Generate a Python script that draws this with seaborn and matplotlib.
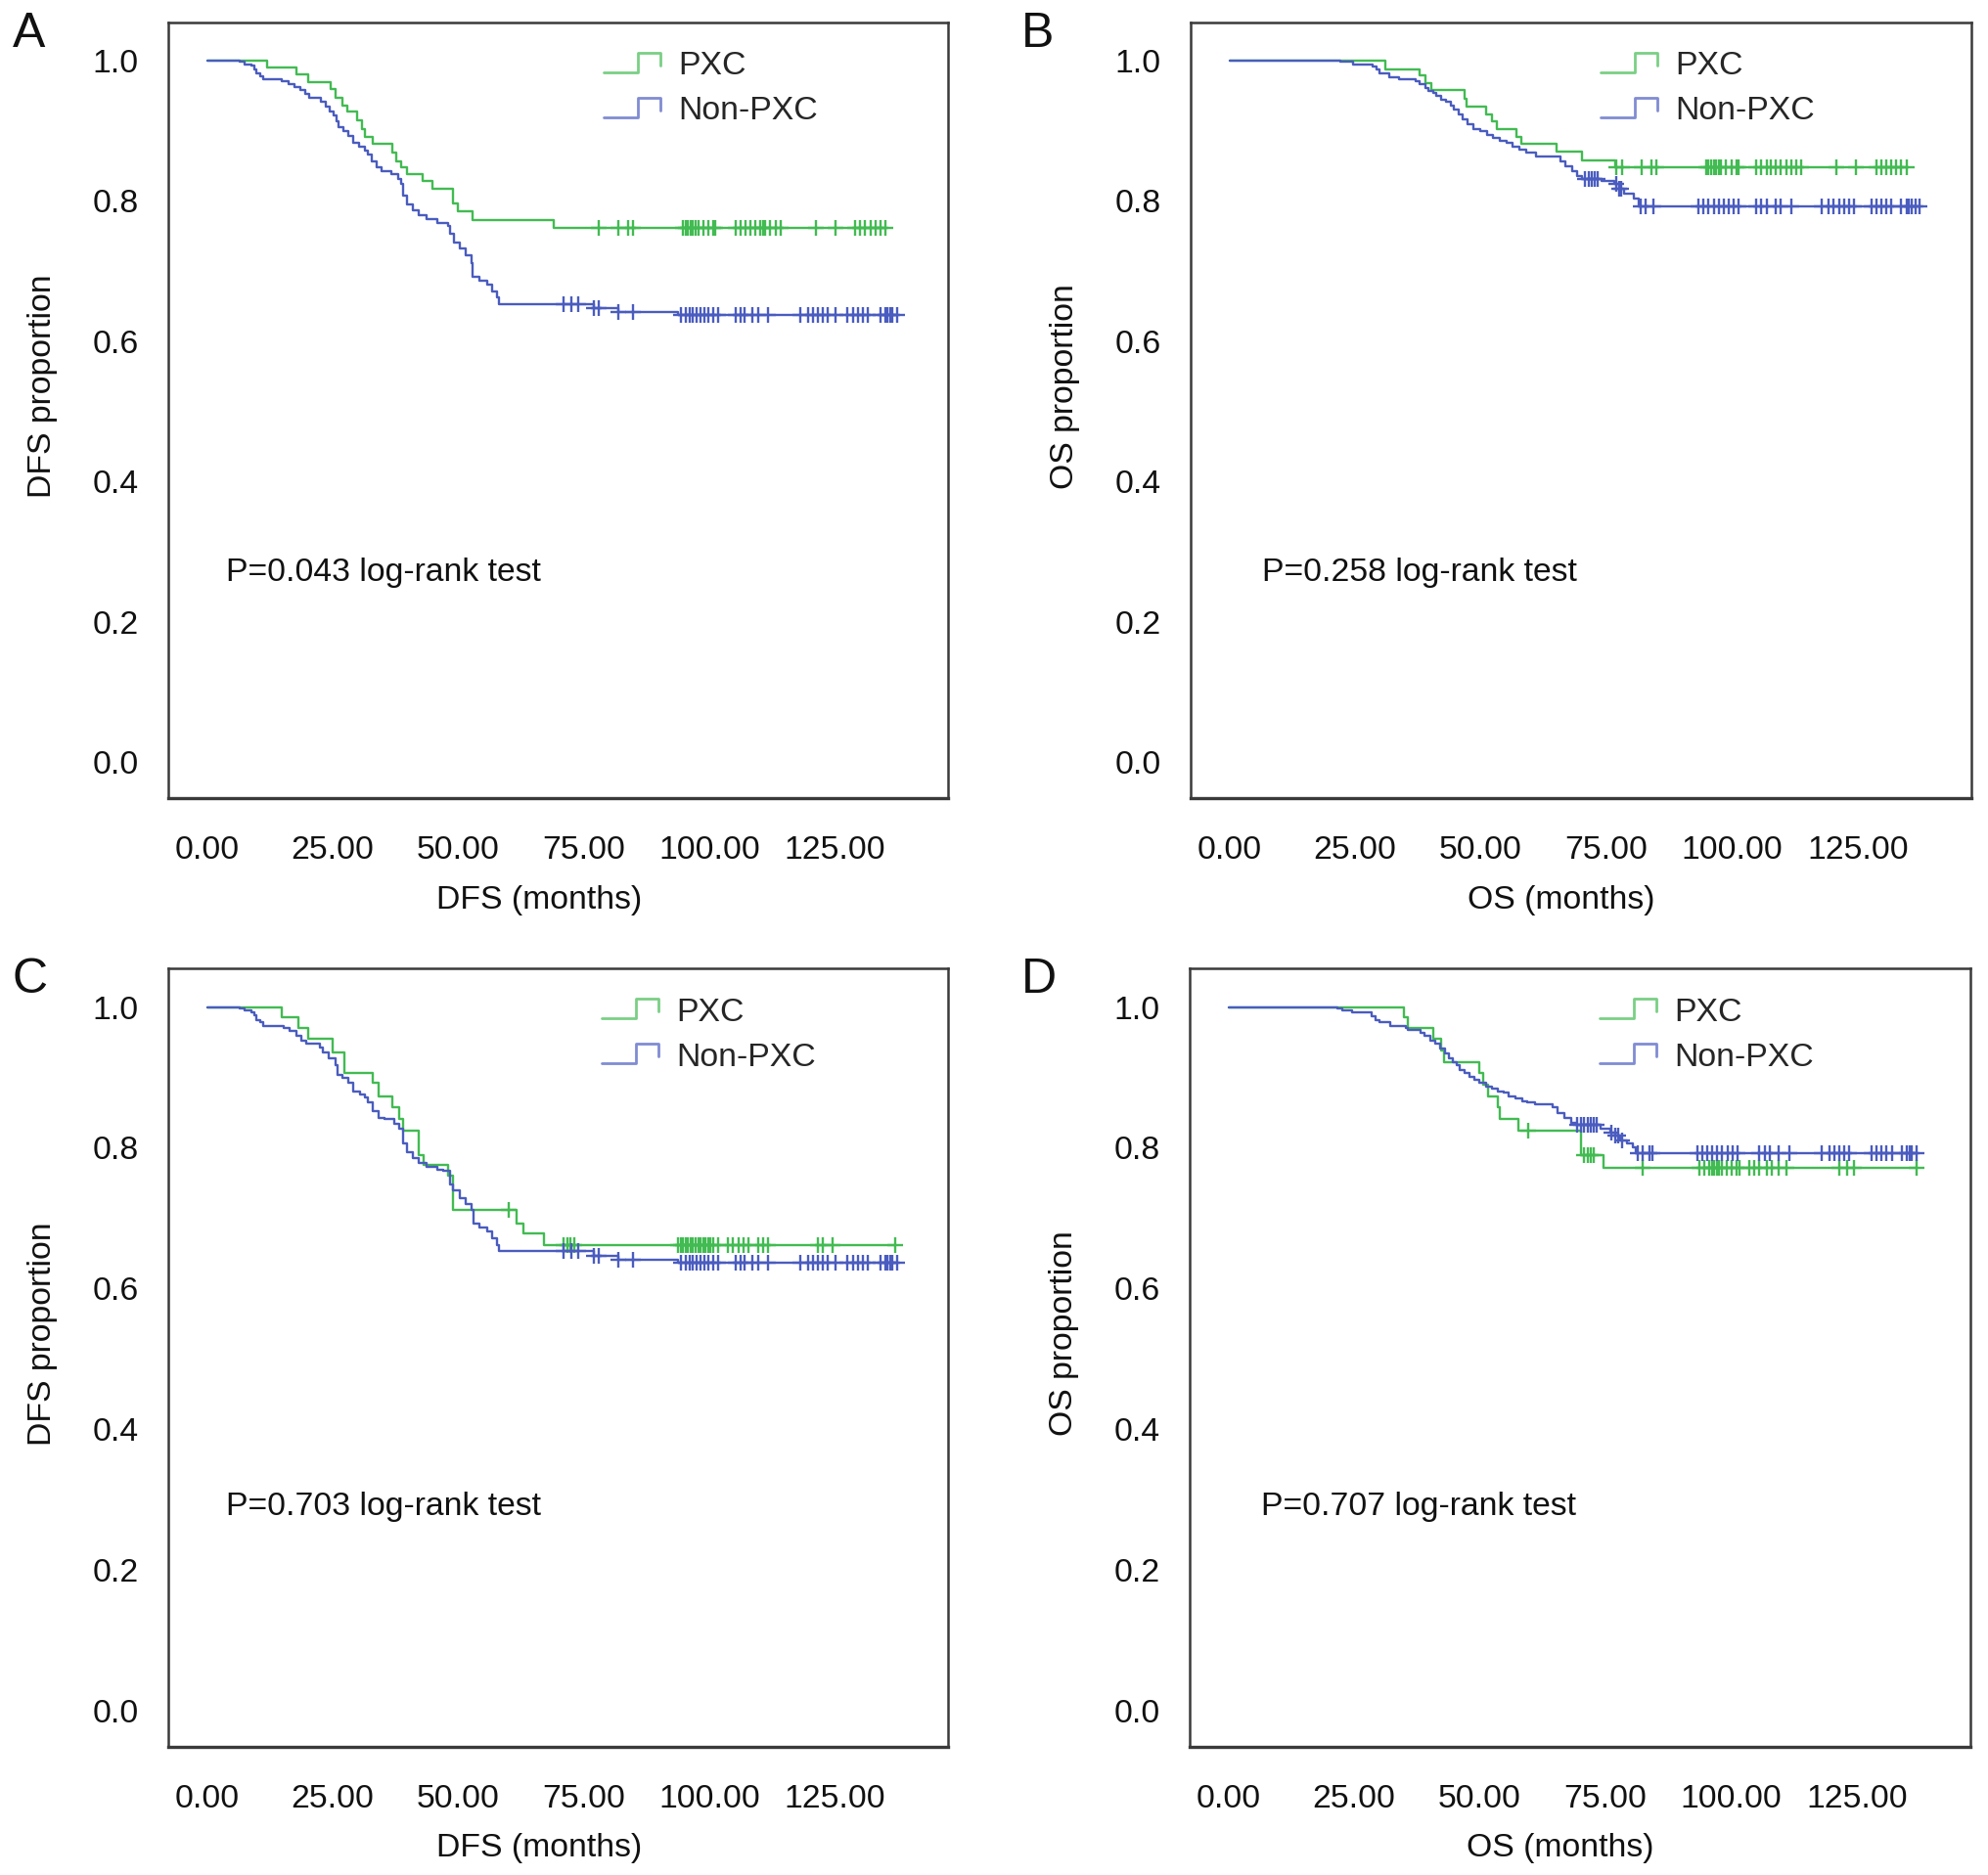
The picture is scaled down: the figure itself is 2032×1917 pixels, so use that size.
# Kaplan-Meier curves: PXC vs Non-PXC, DFS and OS, two cohorts (A-D)

import numpy as np
import pandas as pd
import matplotlib.pyplot as plt
import seaborn as sns
from matplotlib.lines import Line2D
from matplotlib.legend_handler import HandlerBase

sns.set_style('white')
plt.rcParams['font.family'] = ['Liberation Sans', 'DejaVu Sans']

# ---- data (months, survival proportion) ----
# Panel A - DFS
A_PXC_T = [11.9, 17.9, 20.1, 24.7, 25.6, 26.9, 27.9, 29.9, 30.9, 31.5, 33.1, 37.0, 37.7, 38.6, 39.9,
           42.9, 44.8, 49.0, 50.0, 52.9, 69.0]
A_PXC_S = [0.990, 0.980, 0.969, 0.959, 0.947, 0.936, 0.927, 0.915, 0.903, 0.892, 0.882, 0.869, 0.857,
           0.848, 0.838, 0.829, 0.817, 0.797, 0.785, 0.773, 0.762]
A_PXC_C = [78.0, 81.9, 83.9, 84.9, 94.8, 95.3, 95.8, 96.3, 96.8, 97.3, 97.8, 98.8, 99.8, 100.8, 101.3,
           105.3, 106.3, 107.3, 108.2, 109.2, 110.2, 110.7, 111.2, 112.2, 113.2, 114.2, 121.2, 125.1,
           129.1, 130.1, 131.1, 132.1, 133.1, 134.1, 135.1]
A_NON_T = [6.5, 7.5, 8.8, 9.4, 9.9, 10.6, 11.2, 14.9, 16.2, 17.5, 18.5, 19.5, 20.3, 22.7, 23.6, 24.5,
           25.3, 25.8, 26.2, 27.1, 28.2, 29.2, 30.2, 31.4, 32.0, 32.8, 33.8, 34.7, 36.7, 38.0, 38.6, 39.0,
           39.9, 40.9, 42.2, 43.8, 45.8, 48.1, 48.4, 49.2, 50.3, 51.6, 52.6, 52.9, 54.2, 55.8, 56.8, 57.8,
           58.2, 77.0, 81.9, 93.8]
A_NON_S = [0.998, 0.995, 0.993, 0.988, 0.982, 0.978, 0.973, 0.971, 0.967, 0.962, 0.958, 0.952, 0.947,
           0.941, 0.935, 0.928, 0.922, 0.913, 0.905, 0.899, 0.893, 0.883, 0.877, 0.872, 0.866, 0.857,
           0.848, 0.842, 0.838, 0.832, 0.825, 0.808, 0.795, 0.787, 0.780, 0.774, 0.769, 0.764, 0.753,
           0.741, 0.732, 0.723, 0.711, 0.692, 0.687, 0.681, 0.671, 0.662, 0.653, 0.647, 0.641, 0.637]
A_NON_C = [71.0, 72.5, 74.0, 77.0, 78.0, 81.9, 84.9, 94.3, 95.3, 96.1, 96.8, 97.5, 98.3, 99.1, 99.8,
           100.8, 101.8, 105.3, 106.3, 107.1, 108.7, 109.7, 111.7, 118.2, 119.7, 120.7, 121.6, 122.6,
           123.6, 125.1, 127.6, 128.6, 129.6, 130.6, 131.6, 134.1, 135.1, 135.6, 136.1, 136.5, 137.5]

# Panel B - OS
B_PXC_T = [31.0, 37.8, 39.0, 40.2, 46.7, 47.2, 51.1, 52.2, 53.1, 57.1, 58.1, 65.0, 70.1, 76.8]
B_PXC_S = [0.988, 0.979, 0.968, 0.958, 0.946, 0.935, 0.924, 0.914, 0.903, 0.892, 0.882, 0.870, 0.858,
           0.848]
B_PXC_C = [77.0, 78.0, 81.9, 83.9, 84.9, 94.8, 95.3, 95.8, 96.3, 96.8, 97.3, 97.8, 98.8, 99.8, 100.8,
           101.3, 104.8, 105.8, 106.8, 107.7, 108.7, 109.7, 110.7, 111.7, 112.7, 113.7, 120.7, 124.6,
           128.6, 129.6, 130.6, 131.6, 132.6, 133.6, 134.6]
B_NON_T = [22.0, 24.6, 28.5, 29.2, 29.8, 31.8, 33.7, 37.0, 37.9, 38.9, 39.6, 40.5, 41.2, 42.1, 43.1,
           44.1, 44.7, 45.7, 46.4, 47.3, 48.6, 49.9, 51.2, 52.5, 53.8, 55.1, 56.4, 57.7, 59.0, 61.0,
           65.9, 66.8, 68.1, 69.1, 70.1, 74.0, 76.6, 77.5, 78.5, 80.5, 81.4]
B_NON_S = [0.999, 0.995, 0.992, 0.987, 0.982, 0.976, 0.973, 0.971, 0.966, 0.961, 0.957, 0.954, 0.950,
           0.945, 0.941, 0.936, 0.931, 0.924, 0.917, 0.910, 0.903, 0.899, 0.894, 0.890, 0.886, 0.883,
           0.878, 0.873, 0.869, 0.863, 0.857, 0.850, 0.843, 0.836, 0.832, 0.829, 0.825, 0.818, 0.811,
           0.804, 0.792]
B_NON_C = [70.7, 71.4, 72.0, 72.7, 73.3, 76.9, 77.5, 77.9, 81.8, 82.7, 84.4, 93.3, 94.3, 95.3, 96.3,
           97.3, 98.3, 99.3, 100.3, 101.3, 104.8, 105.8, 106.8, 108.7, 109.7, 111.7, 117.7, 119.2,
           120.2, 121.2, 122.2, 123.2, 124.1, 127.6, 128.6, 129.6, 130.6, 131.6, 133.6, 134.6, 135.1,
           135.6, 136.5, 137.3]

# Panel C - DFS
C_PXC_T = [14.9, 18.2, 20.1, 25.0, 27.3, 33.1, 34.1, 37.0, 38.3, 39.0, 42.2, 43.2, 48.0, 49.0, 61.7,
           63.0, 67.2]
C_PXC_S = [0.985, 0.971, 0.955, 0.936, 0.906, 0.892, 0.873, 0.857, 0.841, 0.825, 0.790, 0.776, 0.760,
           0.711, 0.692, 0.678, 0.662]
C_PXC_C = [60.1, 71.1, 71.7, 72.4, 73.1, 93.8, 94.3, 94.8, 95.3, 95.8, 96.3, 96.8, 97.3, 97.8, 98.3,
           98.8, 99.3, 99.8, 100.3, 100.8, 101.8, 103.8, 104.8, 105.8, 106.8, 107.8, 109.7, 110.7,
           111.7, 121.6, 122.6, 124.6, 137.0]
C_NON_T = [6.5, 7.5, 8.8, 9.4, 9.9, 10.6, 11.2, 15.3, 16.5, 17.8, 18.8, 19.8, 22.4, 23.0, 24.3, 25.6,
           26.0, 27.0, 28.2, 29.2, 30.5, 31.5, 32.1, 33.1, 34.1, 35.4, 37.3, 38.3, 39.0, 39.9, 40.9,
           42.2, 43.8, 45.8, 47.1, 48.4, 49.0, 50.3, 51.6, 52.6, 53.0, 54.2, 55.8, 56.8, 57.8, 58.1,
           77.0, 81.9, 93.8]
C_NON_S = [0.998, 0.995, 0.993, 0.988, 0.982, 0.978, 0.973, 0.971, 0.966, 0.959, 0.952, 0.948, 0.943,
           0.936, 0.927, 0.917, 0.903, 0.899, 0.892, 0.880, 0.876, 0.871, 0.864, 0.852, 0.843, 0.841,
           0.834, 0.827, 0.806, 0.794, 0.785, 0.778, 0.773, 0.769, 0.767, 0.748, 0.739, 0.729, 0.720,
           0.711, 0.692, 0.687, 0.681, 0.671, 0.662, 0.653, 0.646, 0.641, 0.637]
C_NON_C = A_NON_C

# Panel D - OS
D_PXC_T = [35.0, 35.7, 40.8, 42.3, 42.8, 49.9, 50.6, 51.6, 53.5, 54.0, 57.7, 70.1, 74.6]
D_PXC_S = [0.985, 0.971, 0.955, 0.939, 0.922, 0.906, 0.890, 0.873, 0.857, 0.841, 0.825, 0.790, 0.772]
D_PXC_C = [59.7, 70.7, 71.4, 72.0, 72.7, 82.4, 93.6, 94.6, 95.6, 96.1, 96.6, 97.1, 97.6, 98.1, 99.1,
           100.1, 101.1, 101.6, 103.6, 104.6, 105.6, 107.1, 108.0, 109.5, 111.0, 121.5, 123.0, 124.4,
           136.8]
D_NON_T = [21.7, 22.7, 24.6, 28.5, 29.2, 30.1, 32.1, 35.3, 35.6, 38.2, 38.9, 40.2, 41.2, 42.1, 43.1,
           43.8, 44.7, 45.4, 46.0, 47.0, 48.0, 49.0, 49.9, 51.2, 52.5, 53.5, 54.8, 55.8, 57.1, 58.4,
           59.4, 61.0, 64.5, 65.5, 66.8, 68.1, 69.1, 74.0, 75.9, 76.9, 77.9, 79.2, 80.5, 81.1]
D_NON_S = [0.998, 0.995, 0.992, 0.987, 0.982, 0.978, 0.973, 0.971, 0.968, 0.964, 0.959, 0.952, 0.948,
           0.941, 0.934, 0.927, 0.922, 0.917, 0.910, 0.906, 0.901, 0.896, 0.892, 0.887, 0.884, 0.880,
           0.878, 0.873, 0.870, 0.866, 0.864, 0.862, 0.857, 0.850, 0.843, 0.836, 0.832, 0.827, 0.822,
           0.818, 0.811, 0.806, 0.801, 0.792]
D_NON_C = [69.4, 70.1, 70.7, 71.4, 72.0, 72.7, 73.3, 76.2, 76.9, 77.5, 78.2, 81.4, 82.4, 83.7, 84.4,
           93.2, 94.2, 95.2, 96.2, 97.2, 98.2, 99.2, 100.2, 101.2, 105.6, 106.6, 107.6, 109.5, 111.5,
           118.0, 119.5, 120.5, 121.5, 122.5, 123.5, 127.9, 128.9, 129.9, 130.9, 131.9, 133.9, 134.9,
           135.4, 135.9, 136.8]

GROUPS = ['PXC', 'Non-PXC']
P_TEXT = ['P=0.043 log-rank test', 'P=0.258 log-rank test', 'P=0.703 log-rank test',
          'P=0.707 log-rank test']
X_TICKS = [0, 25, 50, 75, 100, 125]
X_LABELS = ['0.00', '25.00', '50.00', '75.00', '100.00', '125.00']
Y_TICKS = [0.0, 0.2, 0.4, 0.6, 0.8, 1.0]
Y_LABELS = ['0.0', '0.2', '0.4', '0.6', '0.8', '1.0']

GREEN = '#42bb52'
BLUE = '#4a5cbf'
FS = 24.3


class StepHandler(HandlerBase):
    # little step-shaped legend glyph, like the original software draws
    def create_artists(self, legend, orig_handle, xdescent, ydescent, width, height, fontsize, trans):
        xs = np.array([0.0, 0.6, 0.6, 1.0, 1.0]) * width - xdescent
        ys = np.array([0.1, 0.1, 0.95, 0.95, 0.4]) * height - ydescent
        line = Line2D(xs, ys, color=orig_handle.get_color(), lw=2.0, alpha=0.7)
        line.set_transform(trans)
        return [line]


def km_frame(t, s, cens):
    x = [0.0] + list(t) + [max(cens[-1], t[-1])]
    y = [1.0] + list(s) + [s[-1]]
    return pd.DataFrame({'time': x, 'surv': y})


def censor_levels(t, s, cens):
    idx = np.searchsorted(np.array(t), np.array(cens), side='right') - 1
    return np.where(idx >= 0, np.array(s)[np.clip(idx, 0, None)], 1.0)


panels = [
    ('A', 'DFS', [0.0847, 0.5741, 0.3922, 0.4141], 0.558, 0.27,
     [(A_PXC_T, A_PXC_S, A_PXC_C), (A_NON_T, A_NON_S, A_NON_C)]),
    ('B', 'OS', [0.5989, 0.5741, 0.3929, 0.4141], 0.525, 0.27,
     [(B_PXC_T, B_PXC_S, B_PXC_C), (B_NON_T, B_NON_S, B_NON_C)]),
    ('C', 'DFS', [0.0847, 0.0683, 0.3922, 0.4152], 0.556, 0.29,
     [(C_PXC_T, C_PXC_S, C_PXC_C), (C_NON_T, C_NON_S, C_NON_C)]),
    ('D', 'OS', [0.5984, 0.0683, 0.3929, 0.4152], 0.525, 0.29,
     [(D_PXC_T, D_PXC_S, D_PXC_C), (D_NON_T, D_NON_S, D_NON_C)]),
]

fig = plt.figure(figsize=(20.32, 19.17), dpi=100)

for i, (letter, kind, pos, leg_x, p_y, curves) in enumerate(panels):
    ax = fig.add_axes(pos)
    for (t, s, c), name, col in zip(curves, GROUPS, [GREEN, BLUE]):
        df = km_frame(t, s, c)
        sns.lineplot(data=df, x='time', y='surv', drawstyle='steps-post', color=col, linewidth=1.7,
                     estimator=None, sort=False, label=name, ax=ax)
        sns.scatterplot(x=c, y=censor_levels(t, s, c), marker='+', color=col, s=140, linewidth=1.7,
                        legend=False, ax=ax, zorder=3)

    ax.set_xlim(-7.7, 147.6)
    ax.set_ylim(-0.052, 1.055)
    ax.set_xticks(X_TICKS)
    ax.set_xticklabels(X_LABELS)
    ax.set_yticks(Y_TICKS)
    ax.set_yticklabels(Y_LABELS)
    ax.tick_params(axis='both', direction='out', length=11, width=1.5, colors='#333333',
                   labelcolor='#111111', labelsize=FS)
    ax.tick_params(axis='x', pad=16)
    ax.tick_params(axis='y', pad=11)
    for sp in ax.spines.values():
        sp.set_color('#3a3a3a')
        sp.set_linewidth(1.8)
    ax.spines['bottom'].set_linewidth(2.4)

    ax.set_xlabel(f'{kind} (months)', fontsize=FS, color='#111111')
    ax.set_ylabel(f'{kind} proportion', fontsize=FS, color='#111111')
    ax.xaxis.set_label_coords(0.475, -0.111)
    ax.yaxis.set_label_coords(-0.142, 0.531)

    ax.text(3.7 if kind == 'DFS' else 6.6, p_y, P_TEXT[i], fontsize=FS, va='center', ha='left',
            color='#111111')

    handles, labels = ax.get_legend_handles_labels()
    ax.legend(handles[:2], labels[:2], handler_map={Line2D: StepHandler()}, loc='upper left',
              bbox_to_anchor=(leg_x, 0.963), frameon=False, fontsize=FS, borderpad=0,
              borderaxespad=0, handlelength=1.72, handletextpad=0.54, labelspacing=0.45)

    lx = 0.0062 if letter in 'AC' else 0.5135
    ly = 0.9748 if letter in 'AB' else 0.4705
    fig.text(lx, ly, letter, fontsize=36, va='baseline', ha='left', color='#111111')

fig.savefig('out.png', dpi=100)
